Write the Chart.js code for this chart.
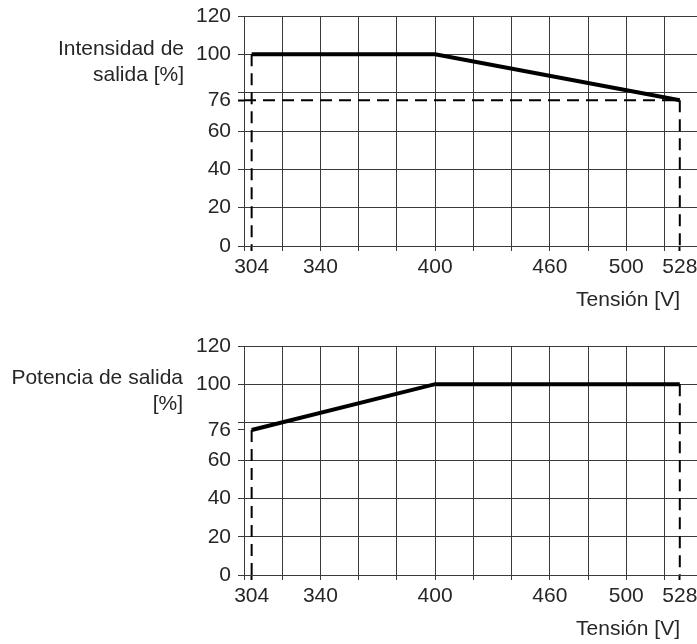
<!DOCTYPE html>
<html>
<head>
<meta charset="utf-8">
<script src="https://cdn.jsdelivr.net/npm/chart.js@4.4.1/dist/chart.umd.min.js"></script>
<style>
  html, body { margin: 0; padding: 0; background: #ffffff; }
  #wrap { position: relative; width: 697px; height: 644px; overflow: hidden;
          font-family: "Liberation Sans", Arial, sans-serif; color: #262626; }
  .panel { position: absolute; left: 0; width: 697px; height: 322px; }
  .ttl { position: absolute; font-size: 21px; line-height: 25.5px; text-align: right; white-space: nowrap; }
</style>
</head>
<body>
<div id="wrap">
  <div class="panel" style="top:0"><canvas id="chartCurrent" width="697" height="322"></canvas></div>
  <div class="panel" style="top:322px"><canvas id="chartPower" width="697" height="322"></canvas></div>
  <div class="ttl" style="right:513px; top:35px;">Intensidad de<br>salida [%]</div>
  <div class="ttl" style="right:17px; top:286px;">Tensión [V]</div>
  <div class="ttl" style="right:514px; top:364px;">Potencia de salida<br>[%]</div>
  <div class="ttl" style="right:17px; top:615px;">Tensión [V]</div>
</div>
<script>
// Derating curves: output current and output power against input voltage
const voltage    = [304, 400, 528];   // V
const currentPct = [100, 100, 76];    // Intensidad de salida [%]
const powerPct   = [76, 100, 100];    // Potencia de salida [%]

const xRange      = [300, 537];
const xGridTicks  = [300, 320, 340, 360, 380, 400, 420, 440, 460, 480, 500, 520];
const xTickLabels = [304, 340, 400, 460, 500, 528];

const yRange      = [0, 120];
const yGridTicks  = [0, 20, 40, 60, 80, 100, 120];
const yTickLabels = [0, 20, 40, 60, 76, 100, 120];

const INK   = '#000000';
const GRID  = '#3a3a3a';
const TEXT  = '#262626';
const FONT  = { family: '"Liberation Sans", Arial, sans-serif', size: 21 };
const DASH  = [12, 7];

const union = (a, b) => Array.from(new Set(a.concat(b))).sort((p, q) => p - q);

function pts(xs, ys) { return xs.map((x, i) => ({ x: x, y: ys[i] })); }

function buildPanel(canvasId, values, opt) {
  const first = voltage[0], last = voltage[voltage.length - 1];
  const vFirst = values[0], vLast = values[values.length - 1];
  const datasets = [
    { data: pts(voltage, values), borderColor: INK, borderWidth: 4, borderCapStyle: 'butt', borderJoinStyle: 'miter' },
    { data: pts([first, first], [vFirst, yRange[0]]), borderColor: INK, borderWidth: 2, borderDash: DASH },
    { data: pts([last, last], [vLast, yRange[0]]), borderColor: INK, borderWidth: 2, borderDash: DASH }
  ];
  if (opt.levelLine) {
    const lvl = Math.min.apply(null, values);
    datasets.push({ data: pts([xRange[0], last], [lvl, lvl]), borderColor: INK, borderWidth: 2, borderDash: DASH });
  }
  datasets.forEach(d => { d.pointRadius = 0; d.fill = false; d.tension = 0; });

  const levelTick = Math.min.apply(null, values);

  return new Chart(document.getElementById(canvasId), {
    type: 'line',
    data: { datasets: datasets },
    options: {
      responsive: false,
      animation: false,
      events: [],
      layout: { padding: { top: opt.top, left: 0, right: 0, bottom: 0 } },
      plugins: { legend: { display: false }, tooltip: { enabled: false } },
      scales: {
        x: {
          type: 'linear', min: xRange[0], max: xRange[1],
          afterBuildTicks: s => { s.ticks = union(xGridTicks, xTickLabels).map(v => ({ value: v })); },
          afterFit: s => { s.height = opt.xAxisHeight; s.paddingLeft = 0; s.paddingRight = 0; },
          border: { display: true, color: GRID, width: 1 },
          grid: {
            color: c => xGridTicks.includes(c.tick.value) ? GRID : 'rgba(0,0,0,0)',
            lineWidth: 1,
            tickColor: c => xGridTicks.includes(c.tick.value) ? GRID : INK,
            tickWidth: c => xGridTicks.includes(c.tick.value) ? 1 : 2,
            tickLength: 5
          },
          ticks: {
            autoSkip: false, maxRotation: 0, minRotation: 0, padding: 4,
            color: TEXT, font: FONT,
            callback: v => xTickLabels.includes(v) ? String(v) : ''
          }
        },
        y: {
          type: 'linear', min: yRange[0], max: yRange[1],
          afterBuildTicks: s => { s.ticks = union(yGridTicks, yTickLabels).map(v => ({ value: v })); },
          afterFit: s => { s.width = 244; s.paddingTop = 0; s.paddingBottom = 0; },
          border: { display: true, color: GRID, width: 1 },
          grid: {
            color: c => yGridTicks.includes(c.tick.value) ? GRID : 'rgba(0,0,0,0)',
            lineWidth: 1,
            tickColor: c => (opt.levelLine && c.tick.value === levelTick) ? INK : GRID,
            tickWidth: c => (opt.levelLine && c.tick.value === levelTick) ? 2 : 1,
            tickLength: 6
          },
          ticks: {
            autoSkip: false, padding: 7, color: TEXT, font: FONT,
            callback: v => yTickLabels.includes(v) ? String(v) : ''
          }
        }
      }
    }
  });
}

buildPanel('chartCurrent', currentPct, { top: 16, xAxisHeight: 76, levelLine: true });
buildPanel('chartPower', powerPct, { top: 24, xAxisHeight: 69, levelLine: false });
</script>
</body>
</html>
